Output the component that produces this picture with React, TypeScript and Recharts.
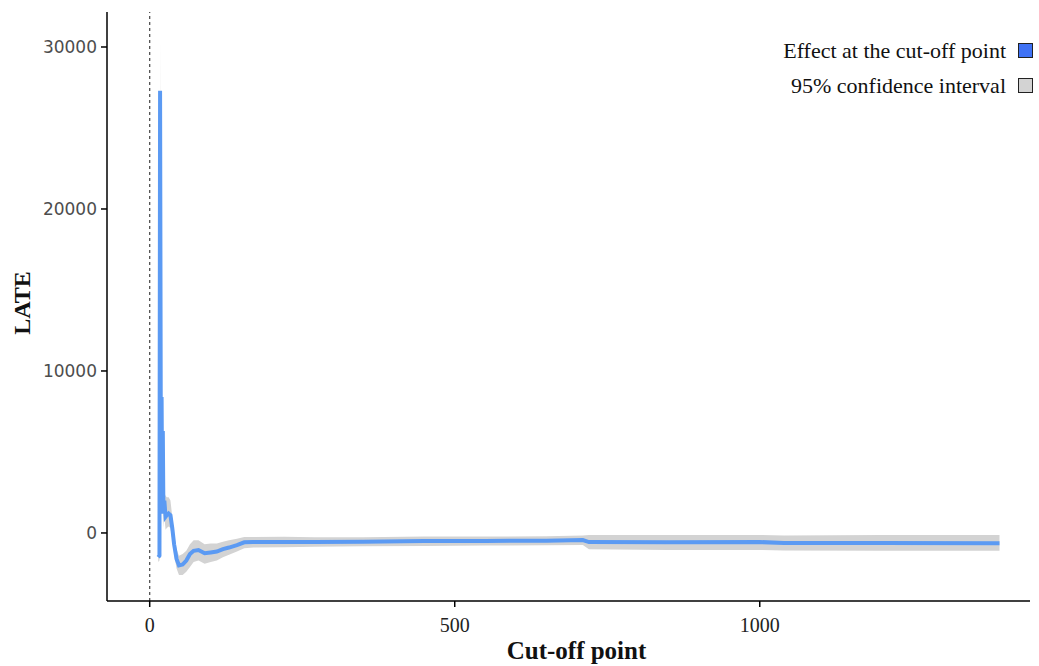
import {
  ComposedChart,
  Area,
  Line,
  XAxis,
  YAxis,
  ReferenceLine,
  Label,
} from "recharts";

// cut-off values (x) and the estimated LATE with its 95% CI
const cutoff = [
  14, 16, 17, 18.5, 19.5, 20.5, 21.5, 22.5, 24, 26, 28, 31, 34, 37, 40, 44, 48, 54, 60, 66, 72,
  80, 90, 100, 110, 120, 130, 143, 155, 170, 220, 270, 350, 450, 550, 650, 710, 720, 850,
  1000, 1040, 1200, 1393,
];
const late = [
  -1500, -1400, 27300, 1300, 8400, 1500, 6300, 1200, 2000, 1000, 1100, 1200, 1100, 300, -700,
  -1600, -2000, -1950, -1700, -1300, -1100, -1050, -1250, -1200, -1150, -1000, -900, -750,
  -580, -560, -560, -560, -540, -500, -490, -480, -440, -560, -570, -560, -620, -620, -640,
];
const ciLow = [
  -1800, -1700, 24200, 300, 7000, 500, 5000, 300, 1000, 200, 300, 400, 300, -400, -1300,
  -2200, -2600, -2600, -2400, -2100, -1800, -1700, -1900, -1800, -1700, -1500, -1350, -1150,
  -950, -900, -880, -850, -820, -800, -780, -760, -740, -1000, -1050, -1050, -1080, -1100,
  -1100,
];
const ciHigh = [
  -1200, -1100, 30500, 2500, 8800, 2400, 6600, 2300, 2500, 2300, 2200, 2200, 2000, 1000,
  -100, -1000, -1400, -1300, -1100, -700, -450, -450, -700, -650, -650, -550, -450, -350,
  -250, -250, -240, -260, -260, -220, -220, -200, -150, -120, -120, -120, -150, -120, -130,
];

const xTicks = [0, 500, 1000];
const yTicks = [0, 10000, 20000, 30000];

const legendItems = [
  { label: "Effect at the cut-off point", color: "#3f72f5" },
  { label: "95% confidence interval", color: "#d3d3d3" },
];

const data = cutoff.map((x, i) => ({
  x,
  late: late[i],
  ci: [ciLow[i], ciHigh[i]],
}));

const serif = "'Liberation Serif', 'Times New Roman', serif";

export default function App() {
  return (
    <div style={{ position: "absolute", left: 0, top: 0, width: 1039, height: 666, background: "#fff" }}>
      <ComposedChart
        width={1039}
        height={666}
        data={data}
        margin={{ top: 12, right: 9, left: 0, bottom: 0 }}
      >
        <XAxis
          type="number"
          dataKey="x"
          domain={[-70, 1443]}
          ticks={xTicks}
          allowDataOverflow
          height={65}
          stroke="#000"
          strokeWidth={1.5}
          tickSize={6}
          tickMargin={11}
          tick={{ fill: "#222", fontSize: 20, fontFamily: serif }}
        >
          <Label
            content={({ viewBox }: any) => (
              <text
                x={viewBox.x + viewBox.width / 2 + 8}
                y={659}
                textAnchor="middle"
                fontFamily={serif}
                fontWeight="bold"
                fontSize={25}
                fill="#111"
              >
                Cut-off point
              </text>
            )}
          />
        </XAxis>
        <YAxis
          type="number"
          domain={[-4200, 32160]}
          ticks={yTicks}
          allowDataOverflow
          width={107}
          stroke="#000"
          strokeWidth={1.5}
          tickSize={6}
          tickMargin={4}
          tick={{ fill: "#4d4d4d", fontSize: 17, fontFamily: "'DejaVu Sans', sans-serif" }}
        >
          <Label
            content={() => (
              <text
                x={30}
                y={303}
                transform="rotate(-90 30 303)"
                textAnchor="middle"
                fontFamily={serif}
                fontWeight="bold"
                fontSize={24}
                fill="#111"
              >
                LATE
              </text>
            )}
          />
        </YAxis>
        <ReferenceLine x={0} stroke="#444" strokeDasharray="3 3" strokeWidth={1.2} />
        <Area
          type="linear"
          dataKey="ci"
          stroke="none"
          fill="#d3d3d3"
          fillOpacity={1}
          isAnimationActive={false}
        />
        <Line
          type="linear"
          dataKey="late"
          stroke="#5b9af3"
          strokeWidth={4}
          dot={false}
          isAnimationActive={false}
        />
      </ComposedChart>
      <div style={{ position: "absolute", right: 6, top: 33, fontFamily: serif, fontSize: 22, color: "#111" }}>
        {legendItems.map((item) => (
          <div key={item.label} style={{ display: "flex", alignItems: "center", justifyContent: "flex-end", height: 35 }}>
            <span>{item.label}</span>
            <span
              style={{
                display: "inline-block",
                width: 13,
                height: 13,
                marginLeft: 12,
                background: item.color,
                border: "1.2px solid #222",
              }}
            />
          </div>
        ))}
      </div>
    </div>
  );
}
